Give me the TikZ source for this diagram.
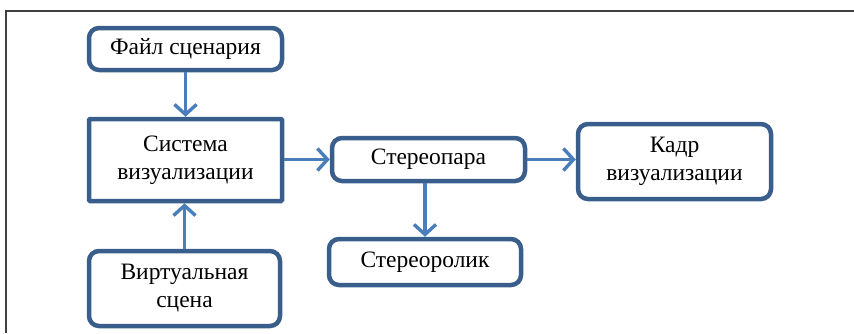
\documentclass[tikz,border=0pt]{standalone}
\usepackage{fontspec}
\setmainfont{Liberation Serif}
\usetikzlibrary{arrows.meta}
\definecolor{boxline}{HTML}{3A5E8C}
\definecolor{arrowblue}{HTML}{4A7EBB}
\definecolor{framegray}{HTML}{404040}
\tikzset{
  blk/.style={draw=boxline, line width=4.5pt, fill=white, rounded corners=10pt,
    minimum width=193pt, align=center, inner sep=0pt,
    font=\fontsize{23.5}{28}\selectfont},
  sqblk/.style={blk, rounded corners=1pt},
  flow/.style={draw=arrowblue, line width=3.4pt,
    -{Straight Barb[length=10pt,width=22pt,line width=3.4pt]}},
}
\begin{document}
\begin{tikzpicture}[x=1pt,y=-1pt]
  \useasboundingbox (0,0) rectangle (854,333);
  % page frame
  \coordinate (fl) at (6,333);
  \coordinate (fc) at (6,11);
  \coordinate (fr) at (854,11);
  \draw[framegray, line width=1.3pt] (fl) -- (fc) -- (fr);

  % blocks
  \node[blk, minimum height=42pt] (scen) at (185.5,49) {Файл сценария};
  \node[sqblk, minimum height=82pt] (sys) at (185.5,160) {Система\\визуализации};
  \node[blk, minimum height=43pt] (pair) at (428.5,159.5) {Стереопара};
  \node[blk, minimum height=46pt, minimum width=192pt] (clip) at (425,262) {Стереоролик};
  \node[blk, minimum height=75pt] (kadr) at (674.5,161.5) {Кадр\\визуализации};
  \node[blk, minimum height=75pt, minimum width=191pt] (virt) at (184.5,288.5) {Виртуальная\\сцена};

  % connectors
  \draw[flow] (scen.south) -- (sys.north);
  \draw[flow] (virt.north) -- (virt.north |- sys.south);
  \draw[flow] (sys.east |- pair.west) -- (pair.west);
  \draw[flow] (pair.east) -- (kadr.west |- pair.east);
  \draw[flow] (pair.south -| clip.north) -- (clip.north);
\end{tikzpicture}
\end{document}
